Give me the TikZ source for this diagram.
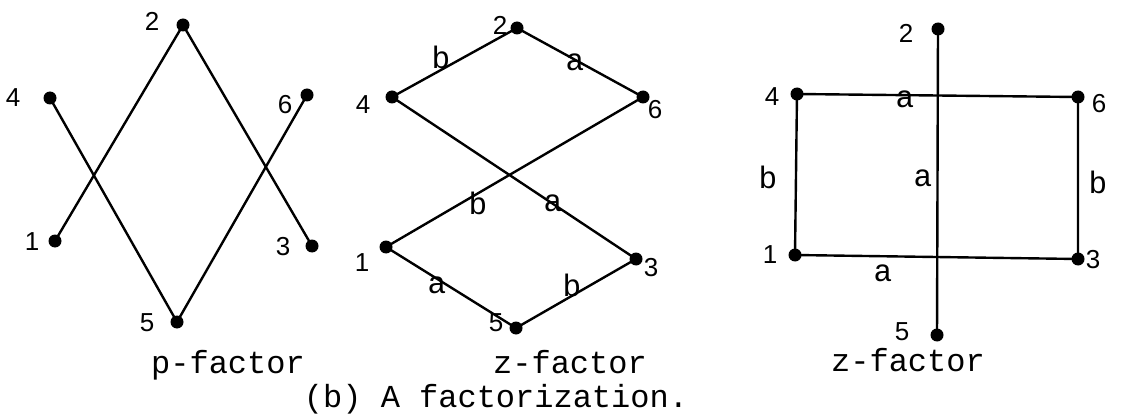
\documentclass[tikz,border=0pt]{standalone}
\usepackage{fontspec}
\newfontfamily\digfont{Liberation Sans}
\newfontfamily\twfont{Liberation Mono}
\begin{document}
\begin{tikzpicture}[x=1pt,y=-1pt,
  dot/.style={circle,fill=black,inner sep=0pt,minimum size=13pt},
  edge/.style={line width=2.4pt,black},
  dig/.style={inner sep=0pt,font=\digfont\fontsize{26}{29}\selectfont},
  elab/.style={inner sep=0pt,font=\twfont\fontsize{31}{34}\selectfont},
  captext/.style={inner sep=0pt,anchor=base,font=\twfont\fontsize{32}{36}\selectfont}]
\useasboundingbox (0,0) rectangle (1121,414);
% ---------- p-factor ----------
\node[dot] (p2) at (183,25) {};
\node[dot] (p4) at (50,98) {};
\node[dot] (p6) at (307,95) {};
\node[dot] (p1) at (55,241) {};
\node[dot] (p3) at (312,246) {};
\node[dot] (p5) at (177,322) {};
\draw[edge] (p1.center) -- (p2.center) -- (p3.center);
\draw[edge] (p4.center) -- (p5.center) -- (p6.center);
\node[dig] (lp2) at (152,21) {2};
\node[dig] (lp4) at (13,98) {4};
\node[dig] (lp6) at (285,105) {6};
\node[dig] (lp1) at (32,242) {1};
\node[dig] (lp3) at (283,247) {3};
\node[dig] (lp5) at (147,323) {5};
\node[captext] (cp) at (228,373) {p-factor};
% ---------- z-factor (middle) ----------
\node[dot] (z2) at (517,28) {};
\node[dot] (z4) at (392,97) {};
\node[dot] (z6) at (643,97) {};
\node[dot] (z1) at (386,247) {};
\node[dot] (z3) at (636,259) {};
\node[dot] (z5) at (516,328) {};
\draw[edge] (z4.center) -- (z2.center) -- (z6.center) -- (z1.center) -- (z5.center) -- (z3.center) -- (z4.center);
\node[dig] (lz2) at (500,25) {2};
\node[dig] (lz4) at (363,105) {4};
\node[dig] (lz6) at (655,110) {6};
\node[dig] (lz1) at (362,263) {1};
\node[dig] (lz3) at (651,268) {3};
\node[dig] (lz5) at (496,323) {5};
\node[elab] (ez1) at (441,57) {b};
\node[elab] (ez2) at (575,62) {a};
\node[elab] (ez3) at (478,203) {b};
\node[elab] (ez4) at (553,203) {a};
\node[elab] (ez5) at (437,285) {a};
\node[elab] (ez6) at (572,285) {b};
\node[captext] (cz) at (570,373) {z-factor};
% ---------- z-factor (right) ----------
\node[dot] (r2) at (938,29) {};
\node[dot] (r4) at (797,94) {};
\node[dot] (r6) at (1078,97) {};
\node[dot] (r1) at (795,255) {};
\node[dot] (r3) at (1078,259) {};
\node[dot] (r5) at (937,335) {};
\draw[edge] (r4.center) -- (r6.center) -- (r3.center) -- (r1.center) -- (r4.center);
\draw[edge] (r2.center) -- (r5.center);
\node[dig] (lr2) at (906,33) {2};
\node[dig] (lr4) at (772,97) {4};
\node[dig] (lr6) at (1099,104) {6};
\node[dig] (lr1) at (770,255) {1};
\node[dig] (lr3) at (1093,260) {3};
\node[dig] (lr5) at (902,332) {5};
\node[elab] (er1) at (905,99) {a};
\node[elab] (er2) at (768,177) {b};
\node[elab] (er3) at (923,178) {a};
\node[elab] (er4) at (1098,182) {b};
\node[elab] (er5) at (883,273) {a};
\node[captext] (cr) at (908,371) {z-factor};
% ---------- caption ----------
\node[captext] (cb) at (496,407) {(b) A factorization.};
\end{tikzpicture}
\end{document}
